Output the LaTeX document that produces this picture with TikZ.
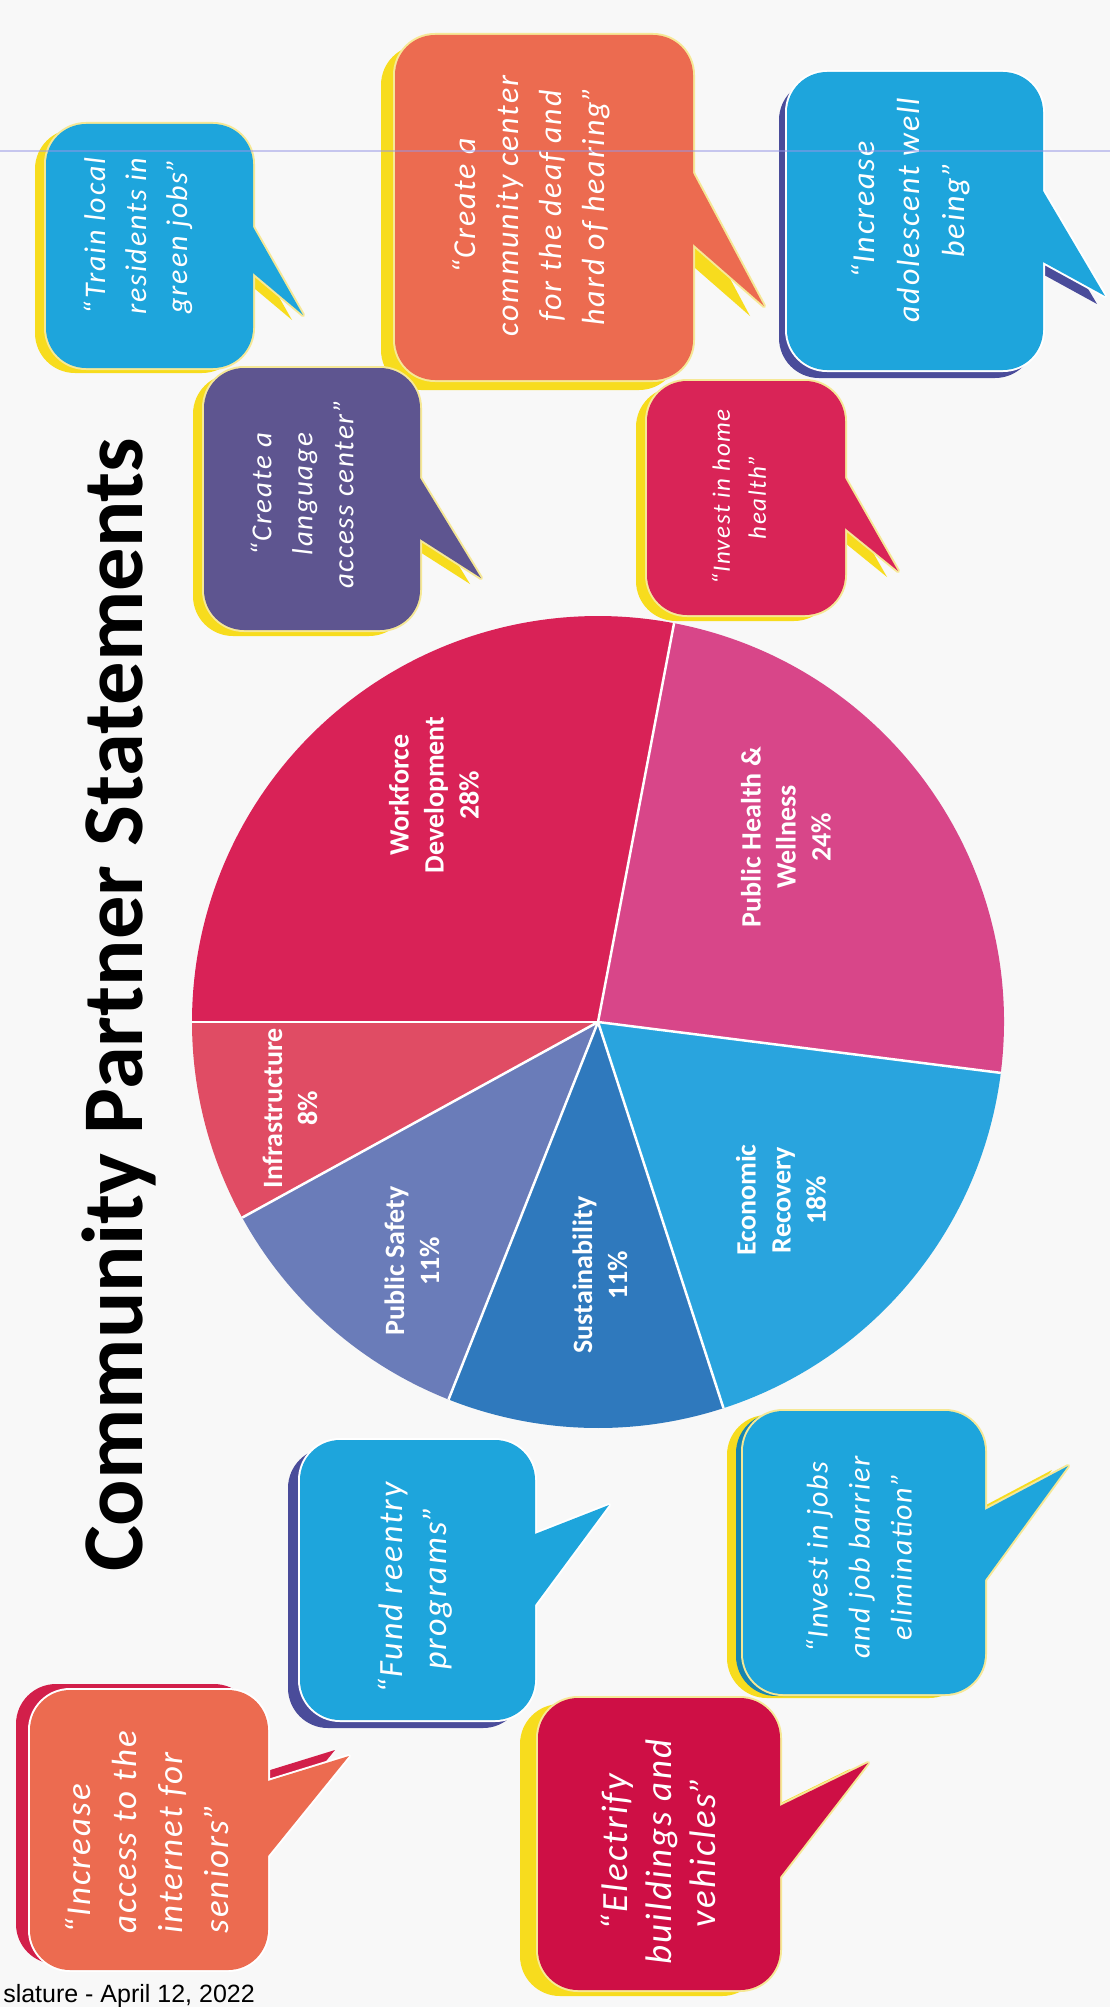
\documentclass[tikz,border=0pt]{standalone}
\usepackage{fontspec}
\setmainfont{Carlito}
\newfontfamily\quotefont[LetterSpace=6]{Carlito}
\newfontfamily\footfont{Liberation Sans}
\usetikzlibrary{calc}

\definecolor{pagegray}{RGB}{248,248,248}
\definecolor{scanline}{RGB}{150,150,230}
\definecolor{wfred}{RGB}{217,34,87}
\definecolor{phpink}{RGB}{216,70,137}
\definecolor{erblue}{RGB}{41,164,222}
\definecolor{sublue}{RGB}{47,121,189}
\definecolor{pspurple}{RGB}{106,124,185}
\definecolor{inred}{RGB}{224,76,100}
\definecolor{qblue}{RGB}{30,165,220}
\definecolor{qorange}{RGB}{236,107,80}
\definecolor{qcrimson}{RGB}{217,36,87}
\definecolor{qdeep}{RGB}{206,15,69}
\definecolor{qpurple}{RGB}{94,85,144}
\definecolor{shyellow}{RGB}{247,220,30}
\definecolor{shpurple}{RGB}{74,76,154}
\definecolor{shred}{RGB}{210,31,74}
\definecolor{rimyellow}{RGB}{246,232,150}

% rounded body + tail on the right side
\newcommand{\bubbleshape}[9]{%
  \path[#9, rounded corners=40] (#1,#2) rectangle (#3,#4);
  \path[#9] (#3-30,#5) -- (#3,#5) -- (#7,#8) -- (#3,#6) -- (#3-30,#6) -- cycle;
}

\begin{document}
\begin{tikzpicture}[x=1pt, y=-1pt, line join=round,
    slicelabel/.style={rotate=90, text=white, align=center, inner sep=0pt, font=\bfseries\fontsize{28}{35}\selectfont},
    quote/.style 2 args={rotate=90, text=white, align=center, inner sep=0pt, font=\quotefont\itshape\fontsize{#1}{#2}\selectfont},
    rim/.style={draw=#1, line width=4},
    title/.style={rotate=90, anchor=base west, inner sep=0pt, font=\bfseries\fontsize{86.5}{100}\selectfont}]

\useasboundingbox (0,0) rectangle (1110,2007);
\fill[pagegray] (0,0) rectangle (1110,2007);

% pie
\coordinate (pc) at (598,1022);
\foreach \a/\b/\c in {180/280.8/wfred, 280.8/367.2/phpink, 7.2/72/erblue, 72/111.6/sublue, 111.6/151.2/pspurple, 151.2/180/inred}
  \fill[\c] (pc) -- ++(\a:406) arc[start angle=\a, end angle=\b, radius=406] -- cycle;
\foreach \a in {180, 280.8, 7.2, 72, 111.6, 151.2}
  \draw[white, line width=2.5] (pc) -- ++(\a:406);

\node[slicelabel] (wf) at (434,795) {Workforce\\Development\\28\%};
\node[slicelabel] (ph) at (786,837) {Public Health \&\\Wellness\\24\%};
\node[slicelabel] (er) at (781,1200) {Economic\\Recovery\\18\%};
\node[slicelabel] (su) at (600,1275) {Sustainability\\11\%};
\node[slicelabel] (ps) at (412,1261) {Public Safety\\11\%};
\node[slicelabel] (in) at (290,1108) {Infrastructure\\8\%};

% title
\node[title] (ttl) at (142,1572) {Community Partner Statements};

% speech bubbles
\bubbleshape{46}{124}{253}{368}{227}{273}{303}{315}{fill=shyellow, shift={(-11,5)}}
\bubbleshape{46}{124}{253}{368}{227}{273}{303}{315}{rim=rimyellow}
\bubbleshape{46}{124}{253}{368}{227}{273}{303}{315}{fill=qblue}
\node[quote={30}{41}] (green) at (138,236) {“Train local\\residents in\\green jobs”};

\bubbleshape{395}{35}{693}{380}{173}{244}{764}{306}{fill=shyellow, shift={(-14,10)}}
\bubbleshape{395}{35}{693}{380}{173}{244}{764}{306}{rim=rimyellow}
\bubbleshape{395}{35}{693}{380}{173}{244}{764}{306}{fill=qorange}
\node[quote={32}{43}] (deaf) at (531,206) {“Create a\\community center\\for the deaf and\\hard of hearing”};

\bubbleshape{787}{72}{1043}{370}{191}{262}{1105}{296}{fill=shpurple, shift={(-8,8)}}
\bubbleshape{787}{72}{1043}{370}{191}{262}{1105}{296}{rim=white}
\bubbleshape{787}{72}{1043}{370}{191}{262}{1105}{296}{fill=qblue}
\node[quote={32}{45}] (teen) at (911,210) {“Increase\\adolescent well\\being”};

\bubbleshape{204}{368}{420}{630}{478}{539}{481}{578}{fill=shyellow, shift={(-11,6)}}
\bubbleshape{204}{368}{420}{630}{478}{539}{481}{578}{rim=rimyellow}
\bubbleshape{204}{368}{420}{630}{478}{539}{481}{578}{fill=qpurple}
\node[quote={29}{41}] (lang) at (302,494) {“Create a\\language\\access center”};

\bubbleshape{647}{381}{845}{615}{478}{528}{898}{571}{fill=shyellow, shift={(-11,6)}}
\bubbleshape{647}{381}{845}{615}{478}{528}{898}{571}{rim=rimyellow}
\bubbleshape{647}{381}{845}{615}{478}{528}{898}{571}{fill=qcrimson}
\node[quote={25}{36}] (home) at (739,497) {“Invest in home\\health”};

\bubbleshape{300}{1440}{535}{1720}{1534}{1605}{609}{1505}{fill=shpurple, shift={(-12,8)}}
\bubbleshape{300}{1440}{535}{1720}{1534}{1605}{609}{1505}{rim=white}
\bubbleshape{300}{1440}{535}{1720}{1534}{1605}{609}{1505}{fill=qblue}
\node[quote={34}{44}] (reentry) at (415,1588) {“Fund reentry\\programs”};

\bubbleshape{743}{1411}{985}{1694}{1510}{1580}{1068}{1466}{fill=shyellow, shift={(-16,4)}}
\bubbleshape{743}{1411}{985}{1694}{1510}{1580}{1068}{1466}{fill=qblue!80!black, shift={(-7,2)}}
\bubbleshape{743}{1411}{985}{1694}{1510}{1580}{1068}{1466}{rim=rimyellow}
\bubbleshape{743}{1411}{985}{1694}{1510}{1580}{1068}{1466}{fill=qblue}
\node[quote={30}{42}] (jobs) at (859,1557) {“Invest in jobs\\and job barrier\\elimination”};

\bubbleshape{30}{1690}{268}{1970}{1781}{1856}{349}{1756}{fill=shred, shift={(-14,-6)}}
\bubbleshape{30}{1690}{268}{1970}{1781}{1856}{349}{1756}{rim=white}
\bubbleshape{30}{1690}{268}{1970}{1781}{1856}{349}{1756}{fill=qorange}
\node[quote={35}{46}, align=left] (seniors) at (147,1832) {“Increase\\access to the\\internet for\\seniors”};

\bubbleshape{538}{1698}{780}{1990}{1806}{1877}{868}{1763}{fill=shyellow, shift={(-18,6)}}
\bubbleshape{538}{1698}{780}{1990}{1806}{1877}{868}{1763}{rim=rimyellow}
\bubbleshape{538}{1698}{780}{1990}{1806}{1877}{868}{1763}{fill=qdeep}
\node[quote={37}{44}] (electric) at (658,1852) {“Electrify\\buildings and\\vehicles”};

% scan line and footer
\draw[scanline, line width=1.5, opacity=.5] (0,151) -- (1110,151);
\node[anchor=base east, inner sep=0pt, font=\footfont\fontsize{25}{30}\selectfont] (foot) at (255,2002) {slature - April 12, 2022};
\end{tikzpicture}
\end{document}
